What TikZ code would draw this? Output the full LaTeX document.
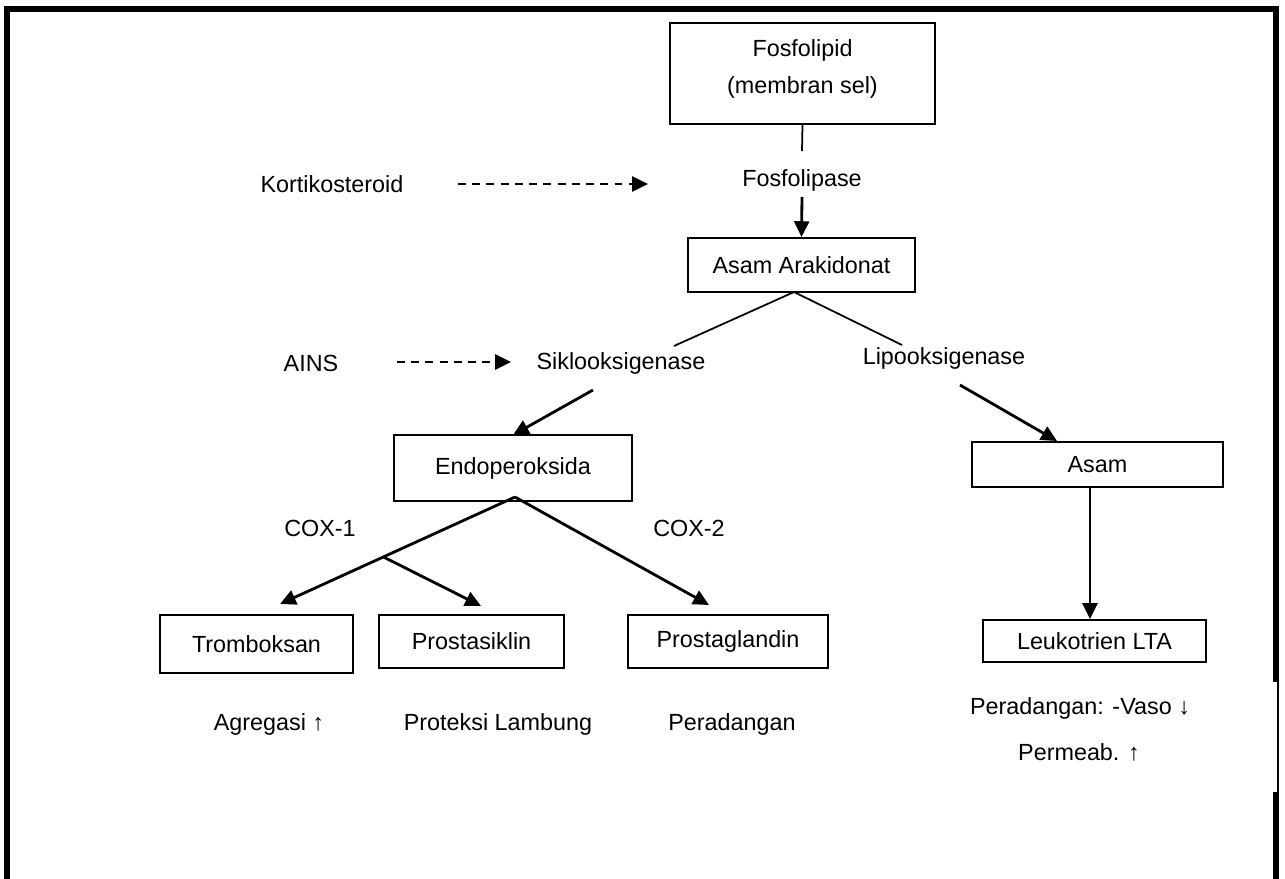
\documentclass[tikz,border=0pt]{standalone}
\usepackage{fontspec}
\setmainfont{Liberation Sans}
\usetikzlibrary{arrows.meta}

\tikzset{
  box/.style 2 args={draw,line width=1.1pt,inner sep=0pt,minimum width=#1*0.02cm,minimum height=#2*0.02cm},
  lbl/.style={inner sep=0pt},
  arr/.style={-{Triangle[length=9pt,width=8.5pt]},line width=1.6pt},
  dasharr/.style={arr,dash pattern=on 4.5pt off 3.6pt},
  link/.style={line width=1pt},
}

\begin{document}
\begin{tikzpicture}[line cap=butt,line join=miter,x=0.02cm,y=-0.02cm,font=\fontsize{13.3}{16}\selectfont]
    \useasboundingbox (0,0) rectangle (1285,879);

    % frame
    \draw [line width=3.4pt] (7,879) -- (7,9) -- (1276,9) -- (1276,682);
    \draw [line width=3.4pt] (1276,792) -- (1276,879);
    \draw [line width=0.8pt] (1278,680) -- (1278,794);

    % boxes and labels
    \node[box={265}{101}] (fosfo) at (802.5,73.5) {};
    \node[lbl,align=center,font=\fontsize{13.3}{21}\selectfont] (fosfotext) at (802.5,69) {Fosfolipid\\(membran sel)};
    \node[lbl] (fosfolipase) at (802,180) {Fosfolipase};
    \node[box={227}{54}] (ara) at (801.5,265) {Asam Arakidonat};
    \node[lbl] (kort) at (332,184) {Kortikosteroid};
    \node[lbl] (ains) at (311,363) {AINS};
    \node[lbl] (siklo) at (621,363) {Siklooksigenase};
    \node[lbl] (lipo) at (944,358) {Lipooksigenase};
    \node[box={238}{66}] (endo) at (513,468) {Endoperoksida};
    \node[box={251}{45}] (asam) at (1097.5,464.5) {Asam};
    \node[lbl] (cox1) at (320,528) {COX-1};
    \node[lbl] (cox2) at (689,528) {COX-2};
    \node[box={193}{58}] (trom) at (256.5,644) {Tromboksan};
    \node[box={185}{53}] (prosta) at (471.5,641.5) {Prostasiklin};
    \node[box={200}{53}] (prostag) at (728,641.5) {Prostaglandin};
    \node[box={223}{42}] (leuko) at (1094.5,641) {Leukotrien LTA};
    \node[lbl] (agregasi) at (269,724) {Agregasi ↑};
    \node[lbl] (proteksi) at (498,724) {Proteksi Lambung};
    \node[lbl] (radang) at (732,724) {Peradangan};
    \node[lbl] (vaso) at (1080,708) {Peradangan: -Vaso ↓};
    \node[lbl] (permeab) at (1079,752) {Permeab. ↑};

    % free ends
    \coordinate (fosfoend) at (802,151);
    \coordinate (lipaseout) at (802,197);
    \coordinate (kortA) at (458,184);
    \coordinate (kortB) at (648,184);
    \coordinate (ainsA) at (397,362);
    \coordinate (ainsB) at (511,362);
    \coordinate (arafork) at (794,292);
    \coordinate (sikloin) at (674,346);
    \coordinate (lipoin) at (902,345);
    \coordinate (siklout) at (593,390);
    \coordinate (endotip) at (513,435);
    \coordinate (lipoout) at (960,385);
    \coordinate (asamtip) at (1057,441);
    \coordinate (endofork) at (515,497);
    \coordinate (tromtip) at (280,604);
    \coordinate (prostatip) at (481,606);
    \coordinate (prostagtip) at (709,605);

    % connectors
    \draw [link] (fosfo.south) -- (fosfoend);
    \draw [arr] (lipaseout) -- (ara.north);
    \draw [dasharr] (kortA) -- (kortB);
    \draw [dasharr] (ainsA) -- (ainsB);
    \draw [link] (arafork) -- (sikloin);
    \draw [link] (arafork) -- (lipoin);
    \draw [arr] (siklout) -- (endotip);
    \draw [arr] (lipoout) -- (asamtip);
    \draw [arr] (asam.south -| 1090,0) -- (leuko.north -| 1090,0);
    \draw [arr] (endofork) -- coordinate[pos=0.56] (cox1fork) (tromtip);
    \draw [arr] (cox1fork) -- (prostatip);
    \draw [arr] (endofork) -- (prostagtip);
\end{tikzpicture}
\end{document}
